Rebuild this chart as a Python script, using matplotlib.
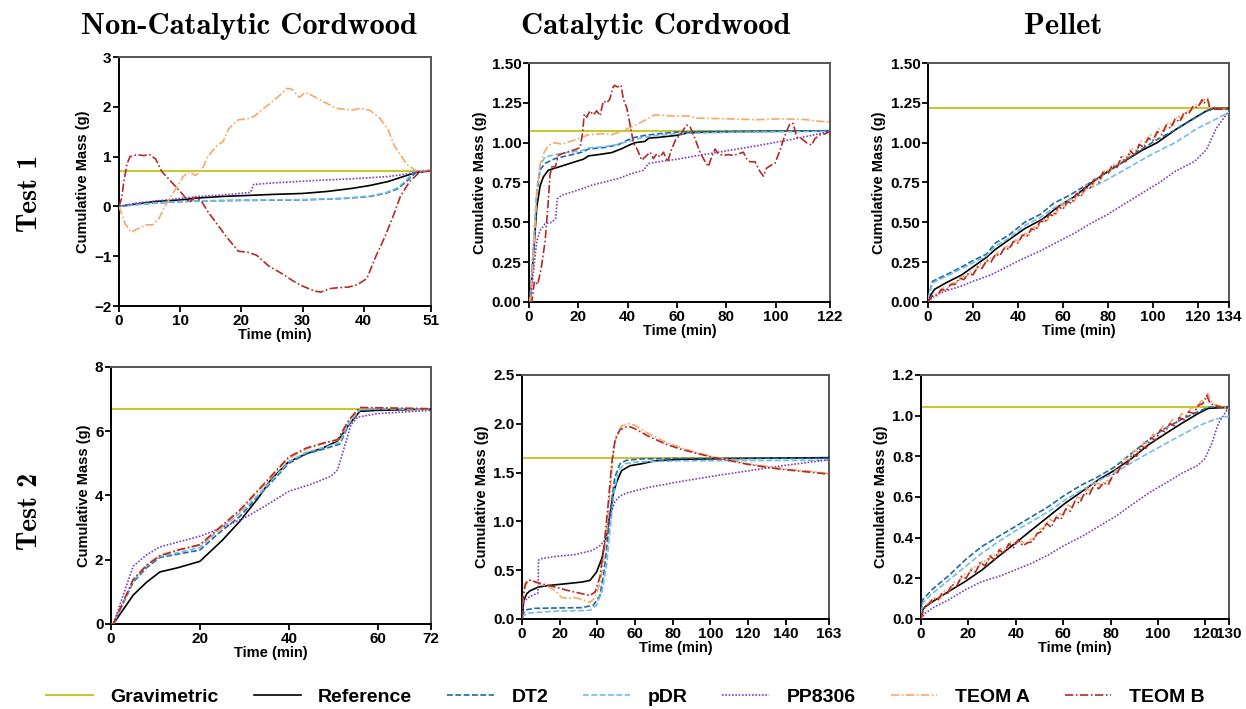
import numpy as np
import matplotlib
matplotlib.use("Agg")
import matplotlib.pyplot as plt
from matplotlib.lines import Line2D

plt.rcParams['font.family'] = ['Liberation Sans', 'DejaVu Sans']
plt.rcParams['font.weight'] = 'bold'

# ─── data: (time [min], cumulative mass [g]) ─────────────────────────────────

# Non-catalytic cordwood, test 1
NC1_GRAV = 0.72
NC1_REF = np.array([[0, 0], [3, 0.05], [6, 0.10], [10, 0.13], [13, 0.17], [17, 0.20], [21, 0.22],
                    [25, 0.24], [30, 0.26], [34, 0.30], [38, 0.36], [41, 0.42], [44, 0.50],
                    [46.5, 0.60], [48.5, 0.68], [51, 0.72]])
NC1_DT2 = np.array([[0, 0], [4, 0.05], [9, 0.09], [13, 0.11], [20, 0.12], [30, 0.13], [37, 0.16],
                    [41, 0.20], [43.5, 0.26], [45.5, 0.35], [47, 0.50], [48.5, 0.68], [51, 0.72]])
NC1_PDR = np.array([[0, 0], [4, 0.05], [9, 0.095], [13, 0.11], [20, 0.125], [30, 0.135], [37, 0.165],
                    [41, 0.21], [43.5, 0.27], [45.5, 0.37], [47, 0.53], [48.2, 0.70], [51, 0.72]])
NC1_PP = np.array([[0, 0], [3, 0.07], [7, 0.12], [10, 0.16], [13, 0.20], [17, 0.23], [21.5, 0.28],
                   [22, 0.44], [25, 0.47], [32, 0.52], [39, 0.56], [44, 0.60], [47, 0.65],
                   [49, 0.70], [51, 0.72]])
NC1_TA = np.array([[0, 0], [1, -0.35], [2, -0.52], [3, -0.45], [4.5, -0.37], [5.5, -0.37],
                   [6.5, -0.25], [7.5, 0.0], [9, 0.30], [10.5, 0.60], [11.5, 0.70], [12.5, 0.62],
                   [13.5, 0.72], [14.5, 1.0], [16, 1.22], [17, 1.30], [18, 1.57], [19.5, 1.74],
                   [21, 1.76], [22, 1.80], [23.5, 1.95], [25, 2.10], [26, 2.20], [27.5, 2.37],
                   [28.3, 2.35], [29.5, 2.19], [30.5, 2.29], [32, 2.20], [33.5, 2.10], [35, 2.0],
                   [36, 1.96], [37, 1.95], [38, 1.93], [39.5, 1.97], [41, 1.93], [42.5, 1.79],
                   [44, 1.54], [45, 1.22], [46, 1.04], [47, 0.85], [48.5, 0.72], [51, 0.72]])
NC1_TB = np.array([[0, 0], [0.4, 0.15], [0.8, 0.5], [1.3, 0.85], [1.8, 1.0], [3, 1.04], [4, 1.02],
                   [5, 1.04], [6, 0.95], [7, 0.70], [8.5, 0.50], [10, 0.30], [11.5, 0.08],
                   [12.5, 0.19], [13.5, 0.10], [14.5, -0.10], [16, -0.35], [17.5, -0.60],
                   [19.5, -0.90], [21, -0.92], [22.5, -0.98], [24.5, -1.20], [26.5, -1.34],
                   [28.5, -1.50], [30, -1.60], [32, -1.70], [33, -1.72], [34.5, -1.65],
                   [36, -1.63], [37.5, -1.62], [39, -1.57], [40.5, -1.45], [42, -1.0],
                   [43.5, -0.6], [44.8, -0.2], [46, 0.2], [47.5, 0.5], [49, 0.67], [51, 0.72]])

# Catalytic cordwood, test 1
C1_GRAV = 1.075
C1_REF = np.array([[0, 0], [0.4, 0], [1.8, 0.30], [3.1, 0.59], [4.5, 0.73], [5.8, 0.785],
                   [7.8, 0.827], [10.5, 0.84], [14.6, 0.86], [18.6, 0.88], [22, 0.896],
                   [24.1, 0.917], [28.1, 0.925], [33.5, 0.9375], [37.6, 0.9625], [41, 0.9875],
                   [43, 1.0], [47, 1.008], [48.6, 1.029], [52.4, 1.033], [59.9, 1.046],
                   [64.6, 1.0625], [72.7, 1.067], [90, 1.07], [122, 1.075]])
C1_DT2 = np.array([[0, 0], [0.4, 0], [1.8, 0.34], [3.1, 0.67], [4.5, 0.83], [6.5, 0.87],
                   [10.5, 0.90], [16, 0.92], [21.4, 0.94], [24.1, 0.96], [30.8, 0.97],
                   [36.2, 0.9875], [41.6, 1.029], [47, 1.046], [52.4, 1.056], [59.9, 1.067],
                   [70, 1.07], [122, 1.075]])
C1_PDR = np.array([[0, 0], [0.4, 0], [1.8, 0.36], [3.1, 0.70], [4.5, 0.86], [6.5, 0.91],
                   [10.5, 0.925], [16, 0.94], [21.4, 0.95], [24.1, 0.967], [30.8, 0.975],
                   [36.2, 0.99], [41.6, 1.015], [47, 1.035], [52.4, 1.046], [59.9, 1.056],
                   [80, 1.065], [122, 1.072]])
C1_PP = np.array([[0, 0], [0.4, 0], [1.8, 0.19], [3.1, 0.38], [4.5, 0.45], [6.5, 0.49],
                  [9.2, 0.50], [10.8, 0.525], [11.4, 0.646], [13.2, 0.67], [17.3, 0.69],
                  [21.4, 0.71], [25.4, 0.733], [30.8, 0.754], [36.2, 0.775], [41.6, 0.806],
                  [46.4, 0.827], [48.4, 0.869], [52.4, 0.88], [59.9, 0.896], [72.7, 0.93],
                  [90.3, 0.975], [106.5, 1.02], [122, 1.07]])
C1_TA = np.array([[0, 0], [0.4, 0], [1.8, 0.30], [3.1, 0.67], [4.5, 0.86], [5.8, 0.93],
                  [7.8, 0.983], [10.5, 1.0], [13.2, 0.99], [16, 1.004], [20, 1.025],
                  [24.1, 1.05], [29.5, 1.056], [33.5, 1.05], [37.6, 1.07], [41.6, 1.10],
                  [45.7, 1.13], [49.1, 1.16], [51, 1.175], [55, 1.17], [59.9, 1.167],
                  [64.6, 1.167], [68.5, 1.154], [80, 1.15], [92, 1.144], [102, 1.15],
                  [112, 1.145], [117, 1.135], [122, 1.13]])
C1_TB = np.array([[0, 0], [1.1, 0], [2.2, 0.13], [3.5, 0.11], [4.9, 0.21], [6.5, 0.38], [7.6, 0.59],
                  [8.5, 0.80], [9.5, 0.86], [10.5, 0.84], [11.9, 0.92], [13.2, 0.93], [15.3, 0.94],
                  [17.3, 0.95], [19.3, 0.96], [20.7, 0.97], [21.6, 1.05], [22.4, 1.18],
                  [23.4, 1.16], [24.7, 1.20], [26.1, 1.175], [27.4, 1.20], [28.8, 1.17],
                  [30.1, 1.26], [31.5, 1.25], [32.8, 1.275], [33.8, 1.34], [34.6, 1.36],
                  [35.9, 1.35], [37.3, 1.36], [38.2, 1.275], [39.6, 1.22], [41, 1.11],
                  [42.3, 1.0], [44.1, 0.95], [45.7, 0.89], [47.7, 0.92], [49.1, 0.94],
                  [50.4, 0.90], [51.8, 0.93], [53.1, 0.91], [54.5, 0.94], [56.2, 0.88],
                  [57.8, 0.96], [59.5, 1.02], [61.2, 1.05], [63.9, 1.11], [65.3, 1.10],
                  [67.3, 1.025], [69.3, 0.94], [71.4, 0.88], [72.7, 0.85], [74.0, 0.91],
                  [75.4, 0.96], [76.7, 0.93], [78.8, 0.92], [80.8, 0.925], [82.8, 0.92],
                  [84.8, 0.93], [86.9, 0.94], [88.2, 0.90], [89.6, 0.88], [91.6, 0.88],
                  [93.6, 0.82], [95.0, 0.79], [96.3, 0.84], [98.3, 0.86], [99.7, 0.87],
                  [101.7, 0.95], [103.7, 1.045], [105.8, 1.12], [107.1, 1.12], [108.5, 1.035],
                  [110.5, 1.025], [112.5, 1.0], [114.6, 0.985], [115.9, 1.025], [118, 1.05],
                  [120, 1.055], [122, 1.07]])

# Pellet, test 1
P1_GRAV = 1.22
P1_REF = np.array([[0, 0], [1, 0.04], [3, 0.08], [8, 0.12], [15, 0.17], [20, 0.22], [26, 0.28],
                   [30, 0.33], [37, 0.40], [43, 0.46], [51, 0.52], [58, 0.60], [65, 0.66],
                   [72, 0.74], [80, 0.82], [87, 0.88], [95, 0.95], [102, 1.0], [110, 1.08],
                   [118, 1.15], [124, 1.2], [127, 1.215], [134, 1.215]])
P1_DT2 = np.array([[0, 0.02], [2, 0.13], [8, 0.17], [15, 0.22], [20, 0.26], [26, 0.30], [30, 0.37],
                   [36, 0.42], [43, 0.50], [50, 0.55], [56, 0.62], [63, 0.67], [70, 0.73],
                   [78, 0.80], [87, 0.88], [94, 0.95], [102, 1.02], [110, 1.08], [117, 1.14],
                   [124, 1.2], [127, 1.21], [134, 1.21]])
P1_PDR = np.array([[0, 0.02], [2, 0.12], [8, 0.16], [15, 0.21], [20, 0.245], [26, 0.29],
                   [30, 0.35], [36, 0.40], [43, 0.48], [50, 0.53], [56, 0.59], [63, 0.64],
                   [70, 0.70], [80, 0.77], [90, 0.85], [100, 0.93], [110, 1.0], [120, 1.09],
                   [127, 1.14], [134, 1.19]])
P1_PP = np.array([[0, 0], [3, 0.04], [8, 0.07], [15, 0.10], [20, 0.13], [28, 0.17], [35, 0.22],
                  [42, 0.27], [50, 0.32], [58, 0.38], [65, 0.43], [72, 0.49], [80, 0.55],
                  [88, 0.62], [96, 0.69], [103, 0.75], [110, 0.82], [118.7, 0.883],
                  [123.9, 0.956], [128.3, 1.09], [134, 1.2]])
P1_TA = np.array([[0, 0], [1, 0.02], [3, 0.05], [5, 0.05], [7, 0.09], [9, 0.09], [11, 0.12],
                  [13, 0.12], [15, 0.16], [17, 0.16], [19, 0.19], [21, 0.19], [23, 0.24],
                  [25, 0.23], [27, 0.28], [29, 0.27], [31, 0.31], [33, 0.31], [35, 0.35],
                  [37, 0.34], [39, 0.39], [41, 0.38], [43, 0.43], [45, 0.42], [47, 0.47],
                  [49, 0.47], [51, 0.52], [53, 0.51], [55, 0.56], [57, 0.55], [59, 0.61],
                  [61, 0.60], [63, 0.64], [65, 0.63], [67, 0.69], [69, 0.68], [71, 0.74],
                  [73, 0.72], [75, 0.78], [77, 0.77], [79, 0.83], [81, 0.82], [83, 0.87],
                  [85, 0.86], [87, 0.92], [89, 0.91], [91, 0.96], [93, 0.95], [95, 1.01],
                  [97, 1.00], [99, 1.05], [101, 1.03], [103, 1.09], [105, 1.07], [107, 1.13],
                  [109, 1.11], [111, 1.17], [113, 1.15], [115, 1.20], [117, 1.20], [119, 1.24],
                  [121, 1.24], [123, 1.27], [124.5, 1.28], [125.5, 1.22], [128, 1.21], [134, 1.21]])
P1_TB = np.array([[0, 0], [2, 0.04], [4, 0.04], [6, 0.08], [8, 0.07], [10, 0.11], [12, 0.11],
                  [14, 0.15], [16, 0.14], [18, 0.18], [20, 0.17], [22, 0.22], [24, 0.21],
                  [26, 0.26], [28, 0.25], [30, 0.30], [32, 0.29], [34, 0.34], [36, 0.33],
                  [38, 0.38], [40, 0.37], [42, 0.42], [44, 0.41], [46, 0.46], [48, 0.45],
                  [50, 0.51], [52, 0.50], [54, 0.55], [56, 0.54], [58, 0.60], [60, 0.58],
                  [62, 0.63], [64, 0.62], [66, 0.68], [68, 0.66], [70, 0.72], [72, 0.71],
                  [74, 0.77], [76, 0.75], [78, 0.82], [80, 0.80], [82, 0.86], [84, 0.84],
                  [86, 0.91], [88, 0.88], [90, 0.95], [92, 0.92], [94, 0.99], [96, 0.97],
                  [98, 1.03], [100, 1.01], [102, 1.07], [104, 1.05], [106, 1.11], [108, 1.09],
                  [110, 1.15], [112, 1.13], [114, 1.19], [116, 1.18], [118, 1.23], [120, 1.22],
                  [122, 1.27], [123, 1.25], [124.5, 1.27], [125.5, 1.21], [127, 1.21], [134, 1.21]])

# Non-catalytic cordwood, test 2
NC2_GRAV = 6.69
NC2_REF = np.array([[0, 0], [0.5, 0], [5, 0.9], [8, 1.3], [11, 1.62], [15, 1.75], [20, 1.95],
                    [25, 2.6], [29, 3.2], [33, 3.9], [36, 4.5], [40, 5.05], [44, 5.3], [48, 5.5],
                    [51, 5.7], [53.5, 6.2], [56, 6.62], [60, 6.65], [72, 6.69]])
NC2_DT2 = np.array([[0, 0], [0.5, 0], [5, 1.3], [8, 1.75], [11, 2.07], [16, 2.2], [20, 2.3],
                    [24, 2.8], [29, 3.35], [33, 3.95], [37, 4.55], [40, 5.0], [44, 5.3],
                    [48, 5.45], [51.5, 5.6], [53.5, 6.2], [56, 6.65], [60, 6.68], [72, 6.69]])
NC2_PDR = np.array([[0, 0], [0.5, 0], [5, 1.35], [8, 1.8], [11, 2.1], [16, 2.25], [20, 2.38],
                    [24, 2.9], [29, 3.45], [33, 4.0], [37, 4.6], [40, 5.05], [44, 5.35],
                    [48, 5.5], [51.5, 5.65], [53.5, 6.25], [56, 6.68], [60, 6.7], [72, 6.69]])
NC2_PP = np.array([[0, 0], [0.5, 0], [5, 1.8], [8, 2.15], [11, 2.4], [15, 2.55], [20, 2.73],
                   [25, 3.0], [30, 3.3], [35, 3.7], [40, 4.13], [45, 4.35], [49.5, 4.6],
                   [51, 4.8], [52.5, 5.5], [54, 6.2], [55.5, 6.44], [60, 6.55], [72, 6.65]])
NC2_TA = np.array([[0, 0], [0.5, 0], [5, 1.4], [8, 1.85], [11, 2.15], [15, 2.3], [20, 2.45],
                   [24, 2.9], [29, 3.5], [33, 4.1], [37, 4.7], [40, 5.15], [44, 5.45],
                   [48, 5.62], [51, 5.72], [53.5, 6.3], [56, 6.72], [60, 6.72], [72, 6.7]])
NC2_TB = np.array([[0, 0], [0.5, 0], [5, 1.38], [8, 1.82], [11, 2.12], [15, 2.3], [20, 2.47],
                   [24, 2.95], [29, 3.55], [33, 4.15], [37, 4.75], [40, 5.2], [44, 5.48],
                   [48, 5.64], [51, 5.74], [53.5, 6.35], [56, 6.74], [60, 6.73], [72, 6.7]])

# Catalytic cordwood, test 2
C2_GRAV = 1.653
C2_REF = np.array([[0, 0], [0.35, 0.02], [0.9, 0.19], [2.6, 0.26], [4.4, 0.29], [8.8, 0.327],
                   [14.1, 0.343], [22.9, 0.36], [31.7, 0.378], [36.1, 0.395], [39.6, 0.48],
                   [42.6, 0.63], [45, 0.87], [46.7, 1.07], [48.5, 1.28], [50.2, 1.40],
                   [52.9, 1.52], [57.3, 1.57], [63.4, 1.59], [70.5, 1.62], [84.6, 1.636],
                   [119.8, 1.646], [163, 1.653]])
C2_DT2 = np.array([[0, 0.02], [0.4, 0.05], [2.6, 0.095], [7, 0.109], [17.6, 0.112],
                   [31.7, 0.116], [37.9, 0.14], [41.4, 0.24], [43.7, 0.5], [45.8, 0.87],
                   [47.6, 1.21], [49.3, 1.45], [52, 1.59], [55.5, 1.626], [63.4, 1.64],
                   [84.6, 1.646], [163, 1.646]])
C2_PDR = np.array([[0, 0.01], [0.4, 0.03], [3.5, 0.06], [17.6, 0.08], [36.1, 0.088],
                   [39.6, 0.14], [42.6, 0.29], [45, 0.56], [46.7, 0.9], [49, 1.31],
                   [51.1, 1.52], [54.6, 1.59], [61.7, 1.61], [84.6, 1.62], [163, 1.626]])
C2_PP = np.array([[0, 0], [0.4, 0.156], [1.8, 0.19], [3.5, 0.22], [6.2, 0.248], [8.5, 0.265],
                  [8.8, 0.6], [9.7, 0.616], [17.6, 0.64], [28.2, 0.66], [37, 0.70],
                  [41.4, 0.75], [43.7, 0.80], [45.8, 0.97], [47.6, 1.11], [49.3, 1.2],
                  [52, 1.26], [56.4, 1.296], [67, 1.347], [84.6, 1.41], [102.2, 1.466],
                  [119.8, 1.517], [137.4, 1.568], [155, 1.612], [163, 1.63]])
C2_TA = np.array([[0, 0], [0.4, 0.156], [1.4, 0.33], [3.5, 0.39], [5.3, 0.40], [8.8, 0.36],
                  [14.1, 0.333], [17.6, 0.29], [21.1, 0.22], [24.7, 0.21], [28.2, 0.22],
                  [31.7, 0.2], [36.1, 0.17], [38.8, 0.22], [41.4, 0.36], [43.2, 0.565],
                  [45, 0.9], [46.7, 1.28], [48.5, 1.69], [50.2, 1.89], [52.9, 1.976],
                  [56.4, 2.0], [59.9, 1.986], [67, 1.9], [75.8, 1.816], [84.6, 1.755],
                  [93.4, 1.70], [102.2, 1.66], [111, 1.626], [119.8, 1.59], [128.6, 1.568],
                  [137.4, 1.544], [146.3, 1.524], [155, 1.51], [163, 1.49]])
C2_TB = np.array([[0, 0], [0.4, 0.19], [1.8, 0.36], [3.5, 0.40], [5.3, 0.39], [10.6, 0.36],
                  [17.6, 0.327], [24.7, 0.29], [31.7, 0.26], [36.1, 0.24], [38.8, 0.275],
                  [41.4, 0.43], [43.7, 0.77], [45.8, 1.18], [47.6, 1.585], [49.3, 1.82],
                  [52, 1.94], [56.4, 1.976], [59.9, 1.95], [67, 1.874], [75.8, 1.796],
                  [84.6, 1.738], [93.4, 1.694], [102.2, 1.653], [111, 1.62], [119.8, 1.585],
                  [128.6, 1.558], [137.4, 1.534], [146.3, 1.517], [155, 1.5], [163, 1.483]])

# Pellet, test 2
P2_GRAV = 1.045
P2_REF = np.array([[0, 0], [0.6, 0.044], [1.7, 0.06], [5.9, 0.093], [11.5, 0.134], [18.6, 0.184],
                   [25.6, 0.24], [32.6, 0.307], [39.7, 0.372], [46.7, 0.438], [53.7, 0.503],
                   [60.8, 0.569], [67.8, 0.626], [74.8, 0.684], [81.9, 0.733], [88.9, 0.79],
                   [95.9, 0.856], [103, 0.91], [110, 0.962], [117, 1.011], [121.3, 1.036],
                   [130, 1.041]])
P2_DT2 = np.array([[0, 0.036], [0.6, 0.093], [4.5, 0.143], [11.5, 0.211], [18.6, 0.29],
                   [25.6, 0.356], [32.6, 0.405], [39.7, 0.454], [46.7, 0.503], [53.7, 0.552],
                   [60.8, 0.61], [67.8, 0.659], [74.8, 0.70], [81.9, 0.749], [88.9, 0.815],
                   [95.9, 0.88], [103, 0.938], [110, 0.982], [117, 1.02], [121.3, 1.041],
                   [130, 1.044]])
P2_PDR = np.array([[0, 0.028], [0.6, 0.077], [4.5, 0.123], [11.5, 0.189], [18.6, 0.257],
                   [25.6, 0.323], [32.6, 0.38], [39.7, 0.433], [46.7, 0.479], [53.7, 0.528],
                   [60.8, 0.585], [67.8, 0.634], [74.8, 0.68], [81.9, 0.72], [88.9, 0.769],
                   [95.9, 0.815], [103, 0.861], [110, 0.905], [117, 0.949], [124, 0.982],
                   [130, 0.998]])
P2_PP = np.array([[0, 0], [1.7, 0.028], [5.9, 0.061], [11.5, 0.093], [18.6, 0.143],
                  [25.6, 0.184], [32.6, 0.208], [39.7, 0.241], [46.7, 0.274], [53.7, 0.315],
                  [60.8, 0.364], [67.8, 0.405], [74.8, 0.454], [81.9, 0.503], [88.9, 0.561],
                  [95.9, 0.618], [103, 0.667], [110, 0.716], [117, 0.757], [119.9, 0.79],
                  [122.7, 0.864], [125.5, 0.962], [130, 1.044]])
P2_TA = np.array([[0, 0], [2, 0.07], [4, 0.08], [6, 0.11], [8, 0.10], [10, 0.14], [12, 0.14],
                  [14, 0.18], [16, 0.18], [18, 0.22], [20, 0.22], [22, 0.26], [24, 0.25],
                  [26, 0.29], [28, 0.28], [30, 0.32], [32, 0.31], [34, 0.35], [36, 0.34],
                  [38, 0.38], [40, 0.37], [42, 0.385], [44, 0.37], [46, 0.39], [48, 0.40],
                  [50, 0.44], [52, 0.45], [54, 0.49], [56, 0.48], [58, 0.52], [60, 0.51],
                  [62, 0.56], [64, 0.55], [66, 0.60], [68, 0.59], [70, 0.64], [72, 0.63],
                  [74, 0.67], [76, 0.66], [78, 0.68], [80, 0.68], [82, 0.73], [84, 0.74],
                  [86, 0.79], [88, 0.78], [90, 0.83], [92, 0.82], [94, 0.87], [96, 0.86],
                  [98, 0.91], [100, 0.90], [102, 0.95], [104, 0.94], [106, 0.98], [108, 0.97],
                  [110, 1.01], [112, 1.00], [114, 1.04], [116, 1.03], [118, 1.07], [120, 1.08],
                  [121, 1.11], [122.5, 1.07], [124, 1.055], [127, 1.045], [130, 1.035]])
P2_TB = np.array([[0, 0], [1, 0.05], [3, 0.07], [5, 0.10], [7, 0.09], [9, 0.13], [11, 0.12],
                  [13, 0.17], [15, 0.16], [17, 0.21], [19, 0.20], [21, 0.24], [23, 0.23],
                  [25, 0.28], [27, 0.26], [29, 0.31], [31, 0.29], [33, 0.34], [35, 0.32],
                  [37, 0.37], [39, 0.35], [41, 0.39], [43, 0.36], [45, 0.375], [47, 0.38],
                  [49, 0.42], [51, 0.43], [53, 0.47], [55, 0.45], [57, 0.50], [59, 0.49],
                  [61, 0.54], [63, 0.53], [65, 0.58], [67, 0.57], [69, 0.62], [71, 0.61],
                  [73, 0.66], [75, 0.64], [77, 0.67], [79, 0.66], [81, 0.71], [83, 0.72],
                  [85, 0.77], [87, 0.76], [89, 0.81], [91, 0.80], [93, 0.85], [95, 0.84],
                  [97, 0.89], [99, 0.88], [101, 0.93], [103, 0.92], [105, 0.96], [107, 0.95],
                  [109, 0.99], [111, 0.98], [113, 1.02], [115, 1.01], [117, 1.05], [119, 1.06],
                  [120.6, 1.10], [122, 1.06], [124, 1.05], [127, 1.04], [130, 1.031]])

# axis setup per panel
NC1_XTICKS = [0, 10, 20, 30, 40, 51]
C1_XTICKS = [0, 20, 40, 60, 80, 100, 122]
P1_XTICKS = [0, 20, 40, 60, 80, 100, 120, 134]
NC2_XTICKS = [0, 20, 40, 60, 72]
C2_XTICKS = [0, 20, 40, 60, 80, 100, 120, 140, 163]
P2_XTICKS = [0, 20, 40, 60, 80, 100, 120, 130]

NC1_YTICKS = [-2, -1, 0, 1, 2, 3]
C1_YTICKS = [0, 0.25, 0.5, 0.75, 1.0, 1.25, 1.5]
P1_YTICKS = C1_YTICKS
NC2_YTICKS = [0, 2, 4, 6, 8]
C2_YTICKS = [0, 0.5, 1.0, 1.5, 2.0, 2.5]
P2_YTICKS = [0, 0.2, 0.4, 0.6, 0.8, 1.0, 1.2]

COLUMN_TITLES = ['Non-Catalytic Cordwood', 'Catalytic Cordwood', 'Pellet']
ROW_TITLES = ['Test 1', 'Test 2']
SERIES_NAMES = ['Gravimetric', 'Reference', 'DT2', 'pDR', 'PP8306', 'TEOM A', 'TEOM B']

# ─── styling ─────────────────────────────────────────────────────────────────

STYLES = {
    'Gravimetric': dict(color='#c8c62a', lw=1.4, ls='-'),
    'Reference':   dict(color='black',   lw=1.2, ls='-'),
    'DT2':         dict(color='#1f6aa5', lw=1.2, ls=(0, (3.5, 1.5))),
    'pDR':         dict(color='#72bde8', lw=1.2, ls=(0, (3.5, 1.5))),
    'PP8306':      dict(color='#7b3fc4', lw=1.2, ls=(0, (1, 1))),
    'TEOM A':      dict(color='#f5a969', lw=1.2, ls=(0, (5, 1.5, 1, 1.5))),
    'TEOM B':      dict(color='#b22a2a', lw=1.2, ls=(0, (5, 1.5, 1, 1.5))),
}

PANELS = [
    # (rect, grav, [ref, dt2, pdr, pp, teomA, teomB], xticks, yticks, yfmt)
    ([0.0955, 0.5684, 0.2504, 0.3512], NC1_GRAV,
     [NC1_REF, NC1_DT2, NC1_PDR, NC1_PP, NC1_TA, NC1_TB], NC1_XTICKS, NC1_YTICKS, '{:.0f}'),
    ([0.4246, 0.5741, 0.2415, 0.3370], C1_GRAV,
     [C1_REF, C1_DT2, C1_PDR, C1_PP, C1_TA, C1_TB], C1_XTICKS, C1_YTICKS, '{:.2f}'),
    ([0.7448, 0.5741, 0.2416, 0.3370], P1_GRAV,
     [P1_REF, P1_DT2, P1_PDR, P1_PP, P1_TA, P1_TB], P1_XTICKS, P1_YTICKS, '{:.2f}'),
    ([0.0891, 0.1199, 0.2568, 0.3625], NC2_GRAV,
     [NC2_REF, NC2_DT2, NC2_PDR, NC2_PP, NC2_TA, NC2_TB], NC2_XTICKS, NC2_YTICKS, '{:.0f}'),
    ([0.4189, 0.1270, 0.2464, 0.3441], C2_GRAV,
     [C2_REF, C2_DT2, C2_PDR, C2_PP, C2_TA, C2_TB], C2_XTICKS, C2_YTICKS, '{:.1f}'),
    ([0.7392, 0.1270, 0.2472, 0.3441], P2_GRAV,
     [P2_REF, P2_DT2, P2_PDR, P2_PP, P2_TA, P2_TB], P2_XTICKS, P2_YTICKS, '{:.1f}'),
]

fig = plt.figure(figsize=(12.46, 7.09), dpi=100)

for rect, grav, curves, xt, yt, yfmt in PANELS:
    ax = fig.add_axes(rect)
    ax.axhline(grav, **STYLES['Gravimetric'], zorder=2)
    for name, arr in zip(SERIES_NAMES[1:], curves):
        ax.plot(arr[:, 0], arr[:, 1], **STYLES[name], zorder=3)
    ax.set_xlim(xt[0], xt[-1])
    ax.set_ylim(yt[0], yt[-1])
    ax.set_xticks(xt)
    ax.set_yticks(yt)
    ax.set_yticklabels([yfmt.format(v).replace('-', '\u2212') for v in yt])
    ax.tick_params(direction='out', length=4, width=1.3, labelsize=11, pad=1.5)
    for lab in ax.get_xticklabels() + ax.get_yticklabels():
        lab.set_fontweight('bold')
    for side in ['left', 'bottom']:
        ax.spines[side].set_linewidth(1.4)
        ax.spines[side].set_color('black')
    for side in ['top', 'right']:
        ax.spines[side].set_linewidth(1.4)
        ax.spines[side].set_color('#555555')
    ax.set_xlabel('Time (min)', fontsize=10.5, fontweight='bold', labelpad=0)
    ax.set_ylabel('Cumulative Mass (g)', fontsize=10.5, fontweight='bold', labelpad=3)

# column and row headings
for x, title in zip([0.1995, 0.5265, 0.853], COLUMN_TITLES):
    fig.text(x, 0.962, title, ha='center', va='center', fontsize=22,
             family='cmb10')
for y, title in zip([0.727, 0.279], ROW_TITLES):
    fig.text(0.024, y, title, ha='center', va='center', fontsize=20,
             family='cmb10', rotation=90)

handles = [Line2D([], [], **STYLES[n]) for n in SERIES_NAMES]
fig.legend(handles, SERIES_NAMES, loc='center', bbox_to_anchor=(0.502, 0.017),
           ncol=7, frameon=False, handlelength=2.4, handletextpad=0.9,
           columnspacing=1.8, prop=dict(weight='bold', size=14))

fig.savefig('out.png', dpi=100)
